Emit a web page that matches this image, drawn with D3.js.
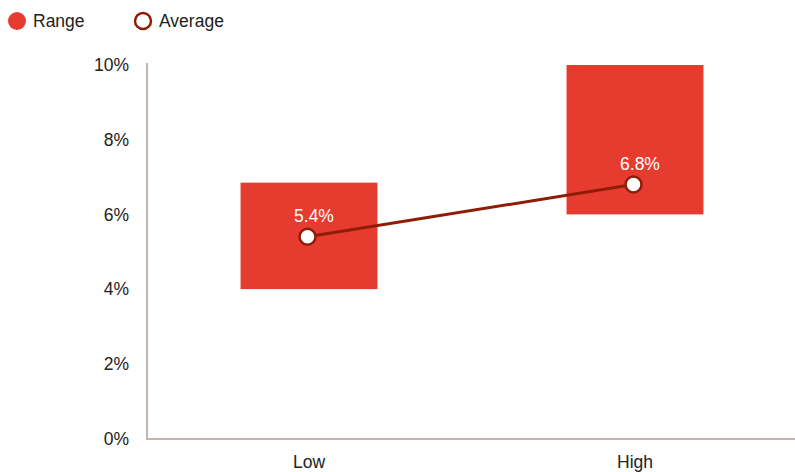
<!DOCTYPE html>
<html>
<head>
<meta charset="utf-8">
<script src="https://cdn.jsdelivr.net/npm/d3@7"></script>
<style>
  html, body { margin: 0; padding: 0; background: #fff; }
  svg { display: block; font-family: "Liberation Sans", Arial, Helvetica, sans-serif; }
</style>
</head>
<body>
<svg id="chart" width="795" height="472"></svg>
<script>
// Range (low–high) and average per category
const categories = ["Low", "High"];
const rangeMin = [4.0, 6.0];
const rangeMax = [6.85, 10.0];
const averages = [5.4, 6.8];
const yTicks = [0, 2, 4, 6, 8, 10];

const barColor = "#e63c30";
const lineColor = "#8f1d06";
const axisColor = "#c0b6ad";
const fontSize = 17.5;

const svg = d3.select("#chart");

const x = d3.scaleBand().domain(categories).range([146, 798]).padding(0);
const y = d3.scaleLinear().domain([0, 10]).range([438.5, 65]);
const barW = x.bandwidth() * 0.42;
const cx = c => x(c) + x.bandwidth() / 2;

// Range bars
svg.append("g").selectAll("rect")
  .data(categories)
  .join("rect")
  .attr("x", c => cx(c) - barW / 2)
  .attr("width", barW)
  .attr("y", (c, i) => y(rangeMax[i]))
  .attr("height", (c, i) => y(rangeMin[i]) - y(rangeMax[i]))
  .attr("fill", barColor);

// Y axis (labels only, plus a plain line)
const yAxis = d3.axisLeft(y).tickValues(yTicks).tickSize(0).tickPadding(18)
  .tickFormat(d => d + "%");
const gy = svg.append("g").attr("transform", "translate(147,0)").call(yAxis);
gy.select(".domain").remove();
gy.selectAll("text").attr("font-size", fontSize).attr("fill", "#222")
  .attr("font-family", "Liberation Sans, Arial, sans-serif");

// X axis labels
const xAxis = d3.axisBottom(x).tickSize(0).tickPadding(17);
const gx = svg.append("g").attr("transform", "translate(0,439)").call(xAxis);
gx.select(".domain").remove();
gx.selectAll("text").attr("font-size", fontSize).attr("fill", "#222")
  .attr("font-family", "Liberation Sans, Arial, sans-serif");

// Axis lines
svg.append("line").attr("x1", 147).attr("x2", 147).attr("y1", 63).attr("y2", 439.5)
  .attr("stroke", axisColor).attr("stroke-width", 2);
svg.append("line").attr("x1", 146).attr("x2", 795).attr("y1", 439).attr("y2", 439)
  .attr("stroke", axisColor).attr("stroke-width", 2);

// Average line
const line = d3.line().x((d, i) => cx(categories[i]) - 1.5).y(d => y(d));
svg.append("path").datum(averages)
  .attr("d", line)
  .attr("fill", "none")
  .attr("stroke", lineColor)
  .attr("stroke-width", 3);

// Average markers
svg.append("g").selectAll("circle")
  .data(averages)
  .join("circle")
  .attr("cx", (d, i) => cx(categories[i]) - 1.5)
  .attr("cy", d => y(d))
  .attr("r", 8)
  .attr("fill", "#fff")
  .attr("stroke", lineColor)
  .attr("stroke-width", 2.5);

// Value labels
svg.append("g").selectAll("text")
  .data(averages)
  .join("text")
  .attr("x", (d, i) => cx(categories[i]) + 5)
  .attr("y", d => y(d) - 15)
  .attr("text-anchor", "middle")
  .attr("font-size", fontSize)
  .attr("fill", "#fff")
  .text(d => d.toFixed(1) + "%");

// Legend
const legend = svg.append("g");
legend.append("circle").attr("cx", 17).attr("cy", 21).attr("r", 9).attr("fill", barColor);
legend.append("text").attr("x", 33).attr("y", 27).attr("font-size", fontSize).attr("fill", "#222").text("Range");
legend.append("circle").attr("cx", 143).attr("cy", 21).attr("r", 8).attr("fill", "#fff")
  .attr("stroke", lineColor).attr("stroke-width", 2.5);
legend.append("text").attr("x", 159).attr("y", 27).attr("font-size", fontSize).attr("fill", "#222").text("Average");
</script>
</body>
</html>
